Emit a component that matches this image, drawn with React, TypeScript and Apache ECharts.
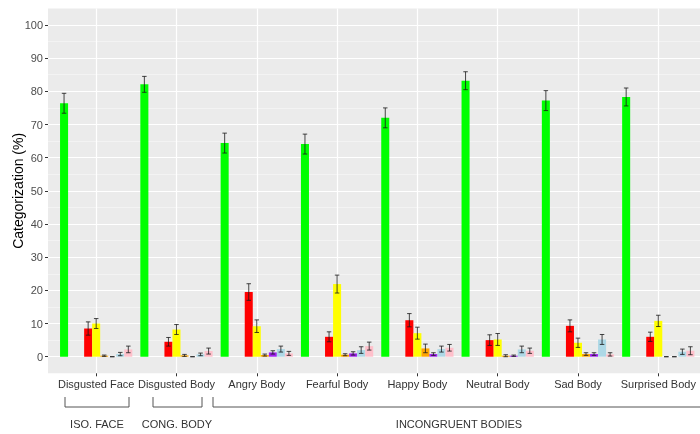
import React, { useEffect, useRef } from "react";
import * as echarts from "echarts";

const categories = [
  "Disgusted Face",
  "Disgusted Body",
  "Angry Body",
  "Fearful Body",
  "Happy Body",
  "Neutral Body",
  "Sad Body",
  "Surprised Body",
];

const yTicks = [0, 10, 20, 30, 40, 50, 60, 70, 80, 90, 100];
const yMinorTicks = [5, 15, 25, 35, 45, 55, 65, 75, 85, 95];
const xTickPositions = [0, 1, 2, 3, 4, 5, 6, 7];

// response categories (slot order in each group)
const disgust = [76.4, 82.1, 64.4, 64.1, 72.0, 83.2, 77.2, 78.3];
const disgustSE = [3.0, 2.4, 3.0, 3.0, 3.0, 2.7, 3.0, 2.7];
const unusedA: (number | null)[] = [null, null, null, null, null, null, null, null];
const unusedB: (number | null)[] = [null, null, null, null, null, null, null, null];
const anger = [8.5, 4.5, 19.5, 6.0, 11.0, 5.0, 9.3, 6.0];
const angerSE = [2.0, 1.3, 2.5, 1.5, 2.0, 1.6, 1.8, 1.4];
const fear = [10.0, 8.2, 9.2, 21.9, 7.1, 5.2, 4.2, 10.8];
const fearSE = [1.5, 1.5, 1.9, 2.7, 1.8, 1.8, 1.4, 1.7];
const happiness = [0.3, 0.4, 0.5, 0.6, 2.5, 0.3, 0.8, 0];
const happinessSE = [0.2, 0.3, 0.3, 0.3, 1.3, 0.3, 0.4, 0];
const neutral = [0, 0, 1.3, 1.0, 0.8, 0.3, 0.8, 0];
const neutralSE = [0, 0, 0.5, 0.5, 0.4, 0.2, 0.4, 0];
const sadness = [0.8, 0.7, 2.3, 2.0, 2.3, 2.2, 5.2, 1.5];
const sadnessSE = [0.5, 0.4, 0.9, 1.0, 0.9, 1.0, 1.5, 0.8];
const surprise = [2.2, 1.7, 1.0, 3.2, 2.7, 1.8, 0.7, 1.8];
const surpriseSE = [1.0, 0.9, 0.6, 1.2, 1.0, 0.8, 0.5, 1.2];

const seriesDefs = [
  { name: "Disgust", values: disgust, se: disgustSE, color: "#00FF00" },
  { name: "Unused A", values: unusedA, se: null, color: "#999999" },
  { name: "Unused B", values: unusedB, se: null, color: "#999999" },
  { name: "Anger", values: anger, se: angerSE, color: "#FF0000" },
  { name: "Fear", values: fear, se: fearSE, color: "#FFFF00" },
  { name: "Happiness", values: happiness, se: happinessSE, color: "#FFA500" },
  { name: "Neutral", values: neutral, se: neutralSE, color: "#A020F0" },
  { name: "Sadness", values: sadness, se: sadnessSE, color: "#ADD8E6" },
  { name: "Surprise", values: surprise, se: surpriseSE, color: "#FFC0CB" },
];

const FONT = "'Liberation Sans', Arial, sans-serif";
const SLOT_FRAC = 0.1;

export default function App() {
  const ref = useRef<HTMLDivElement>(null);

  useEffect(() => {
    if (!ref.current) return;
    const chart = echarts.init(ref.current, undefined, { renderer: "svg" });

    const panelLeft = 48;
    const panelTop = 8.4;
    const panelHeight = 364.9;
    const panelWidth = 652;
    const band = 80.3;
    const xMin = -0.6;
    const xMax = xMin + panelWidth / band;
    const barGridLeft = panelLeft + 0.6 * band - band / 2;

    const errData: any[] = [];
    seriesDefs.forEach((s, slot) => {
      if (!s.se) return;
      s.values.forEach((v, i) => {
        if (v == null) return;
        errData.push([i, v - (s.se as number[])[i], v + (s.se as number[])[i], slot]);
      });
    });

    const barSeries = seriesDefs.map((s) => ({
      type: "bar",
      name: s.name,
      xAxisIndex: 1,
      yAxisIndex: 1,
      data: s.values,
      barWidth: "10%",
      barGap: "0%",
      itemStyle: { color: s.color },
      silent: true,
    }));

    const option: any = {
      animation: false,
      grid: [
        {
          left: panelLeft,
          top: panelTop,
          width: panelWidth,
          height: panelHeight,
          show: true,
          backgroundColor: "#EBEBEB",
          borderWidth: 0,
          containLabel: false,
          outerBoundsMode: "none",
        },
        {
          left: barGridLeft,
          top: panelTop,
          width: band * 8,
          height: panelHeight,
          show: false,
          containLabel: false,
          outerBoundsMode: "none",
        },
      ],
      xAxis: [
        {
          gridIndex: 0,
          type: "value",
          position: "bottom",
          min: xMin,
          max: xMax,
          axisLine: { show: false, onZero: false },
          axisTick: {
            show: true,
            customValues: xTickPositions,
            length: 3,
            lineStyle: { color: "#333333" },
          },
          axisLabel: {
            customValues: xTickPositions,
            formatter: (v: number) => categories[Math.round(v)] ?? "",
            color: "#333333",
            fontSize: 11,
            fontFamily: FONT,
            margin: 5,
          },
          splitLine: {
            show: true,
            lineStyle: { color: "#FFFFFF", width: 1.2 },
          },
        },
        {
          gridIndex: 1,
          type: "category",
          data: categories,
          show: false,
        },
      ],
      yAxis: [
        {
          gridIndex: 0,
          type: "value",
          position: "left",
          min: -5,
          max: 105,
          name: "Categorization (%)",
          nameLocation: "middle",
          nameGap: 23,
          nameMoveOverlap: false,
          nameTextStyle: { fontSize: 14, color: "#000000", fontFamily: FONT },
          axisLine: { show: false, onZero: false },
          axisTick: {
            show: true,
            customValues: yTicks,
            length: 3,
            lineStyle: { color: "#333333" },
          },
          axisLabel: {
            customValues: yTicks,
            color: "#4D4D4D",
            fontSize: 11,
            fontFamily: FONT,
            margin: 5,
          },
          splitLine: { show: true, lineStyle: { color: "#FFFFFF", width: 1.2 } },
        },
        {
          gridIndex: 1,
          type: "value",
          min: -5,
          max: 105,
          show: false,
        },
        {
          gridIndex: 0,
          type: "value",
          position: "right",
          min: -5,
          max: 105,
          axisLine: { show: false, onZero: false },
          axisTick: { show: false, customValues: yMinorTicks },
          axisLabel: { show: false, customValues: yMinorTicks },
          splitLine: { show: true, lineStyle: { color: "#F7F7F7", width: 0.7 } },
        },
      ],
      series: [
        ...barSeries,
        {
          type: "custom",
          name: "error",
          xAxisIndex: 1,
          yAxisIndex: 1,
          data: errData,
          silent: true,
          z: 5,
          renderItem: (params: any, api: any) => {
            const idx = api.value(0);
            const lo = api.value(1);
            const hi = api.value(2);
            const slot = api.value(3);
            const bw = api.size([1, 0])[0];
            const center = api.coord([idx, 0])[0];
            const x = center + (slot - 4) * SLOT_FRAC * bw;
            const yLo = api.coord([idx, lo])[1];
            const yHi = api.coord([idx, hi])[1];
            const cap = SLOT_FRAC * bw * 0.28;
            const style = { stroke: "#1A1A1A", lineWidth: 1, opacity: 0.8 };
            return {
              type: "group",
              children: [
                { type: "line", shape: { x1: x, y1: yLo, x2: x, y2: yHi }, style },
                { type: "line", shape: { x1: x - cap, y1: yHi, x2: x + cap, y2: yHi }, style },
                { type: "line", shape: { x1: x - cap, y1: yLo, x2: x + cap, y2: yLo }, style },
              ],
            };
          },
        },
      ],
      graphic: [
        {
          type: "polyline",
          shape: { points: [[65, 397], [65, 407], [129, 407], [129, 397]] },
          style: { stroke: "#555555", fill: null, lineWidth: 1 },
        },
        {
          type: "polyline",
          shape: { points: [[153, 397], [153, 407], [202, 407], [202, 397]] },
          style: { stroke: "#555555", fill: null, lineWidth: 1 },
        },
        {
          type: "polyline",
          shape: { points: [[213, 397], [213, 407], [720, 407]] },
          style: { stroke: "#555555", fill: null, lineWidth: 1 },
        },
        {
          type: "text",
          x: 97,
          y: 424,
          style: {
            text: "ISO. FACE",
            fill: "#333333",
            font: `11px ${FONT}`,
            align: "center",
            verticalAlign: "middle",
          },
        },
        {
          type: "text",
          x: 177,
          y: 424,
          style: {
            text: "CONG. BODY",
            fill: "#333333",
            font: `11px ${FONT}`,
            align: "center",
            verticalAlign: "middle",
          },
        },
        {
          type: "text",
          x: 459,
          y: 424,
          style: {
            text: "INCONGRUENT BODIES",
            fill: "#333333",
            font: `11px ${FONT}`,
            align: "center",
            verticalAlign: "middle",
          },
        },
      ],
    };

    chart.setOption(option);
    return () => chart.dispose();
  }, []);

  return <div ref={ref} style={{ width: 700, height: 434, position: "fixed", left: 0, top: 0 }} />;
}
